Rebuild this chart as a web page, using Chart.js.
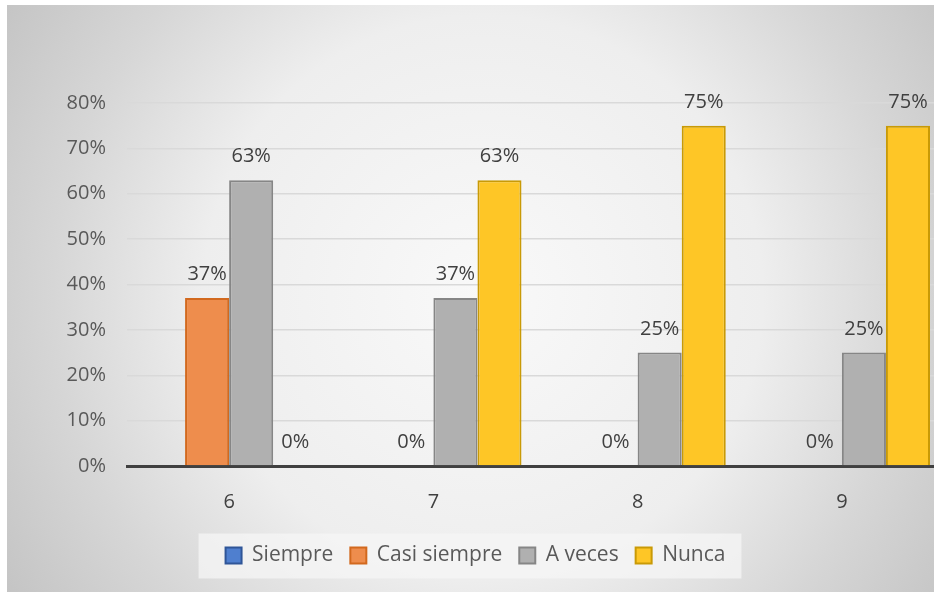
<!DOCTYPE html>
<html>
<head>
<meta charset="utf-8">
<script src="https://cdn.jsdelivr.net/npm/chart.js@4.4.1/dist/chart.umd.min.js"></script>
<style>
  html, body { margin: 0; padding: 0; background: #ffffff; overflow: hidden; width: 934px; height: 592px; }
  #box {
    position: absolute; left: 7px; top: 5px; width: 940px; height: 587px;
    background: radial-gradient(circle at 476px 290px, #f9f9f9 0px, #eeeeee 280px, #d6d6d6 430px, #c3c3c3 570px);
  }
</style>
</head>
<body>
<div id="box"><canvas id="grafico" width="940" height="587"></canvas></div>
<script>
// grados y respuestas (porcentaje)
const grados = ['6', '7', '8', '9'];
const siempre = [null, null, null, null];
const casiSiempre = [37, 0, 0, 0];
const aVeces = [63, 37, 25, 25];
const nunca = [0, 63, 75, 75];
const ticksY = [0, 10, 20, 30, 40, 50, 60, 70, 80];

const fuente = '"Open Sans", sans-serif';

// fondo claro detras de la leyenda
const fondoLeyenda = {
    id: 'fondoLeyenda',
    beforeDraw(chart) {
        const hb = chart.legend.legendHitBoxes;
        if (!hb || !hb.length) return;
        const ctx = chart.ctx;
        const first = hb[0], last = hb[hb.length - 1];
        const x0 = first.left - 27;
        const x1 = last.left + last.width + 16;
        const yMid = first.top + first.height / 2;
        ctx.save();
        ctx.fillStyle = 'rgba(245,245,245,0.75)';
        ctx.fillRect(x0, yMid - 22, x1 - x0, 45);
        ctx.restore();
    }
};

// etiquetas de valor sobre cada barra
const etiquetas = {
    id: 'etiquetas',
    afterDatasetsDraw(chart) {
        const ctx = chart.ctx;
        ctx.save();
        ctx.font = '20px ' + fuente;
        ctx.fillStyle = '#404040';
        ctx.textAlign = 'center';
        ctx.textBaseline = 'alphabetic';
        chart.data.datasets.forEach((ds, i) => {
            const meta = chart.getDatasetMeta(i);
            meta.data.forEach((bar, j) => {
                const v = ds.data[j];
                if (v === null) return;
                ctx.fillText(v + '%', bar.x, bar.y - 18);
            });
        });
        ctx.restore();
    }
};

const ctx = document.getElementById('grafico').getContext('2d');
new Chart(ctx, {
    type: 'bar',
    data: {
        labels: grados,
        datasets: [
            { label: 'Siempre', data: siempre, backgroundColor: '#4f7fcf', borderColor: '#2f5597', borderWidth: 2 },
            { label: 'Casi siempre', data: casiSiempre, backgroundColor: '#ee8d4d', borderColor: '#d2691e', borderWidth: 2 },
            { label: 'A veces', data: aVeces, backgroundColor: '#b0b0b0', borderColor: '#868686', borderWidth: 2 },
            { label: 'Nunca', data: nunca, backgroundColor: '#fec626', borderColor: '#c99a06', borderWidth: 2 }
        ]
    },
    options: {
        responsive: false,
        animation: false,
        layout: { padding: { top: 98, right: 3, left: 0, bottom: 16 } },
        datasets: {
            bar: { categoryPercentage: 0.863, barPercentage: 1 }
        },
        scales: {
            x: {
                grid: { display: false, drawTicks: false },
                border: { display: true, color: '#404040', width: 3 },
                ticks: { color: '#404040', font: { family: fuente, size: 20 }, padding: 24 },
                afterFit(scale) { scale.height = 62; }
            },
            y: {
                min: 0,
                max: 80,
                afterBuildTicks(scale) { scale.ticks = ticksY.map(v => ({ value: v })); },
                grid: { color: '#d9d9d9', lineWidth: 1.5, drawTicks: false },
                border: { display: false },
                ticks: {
                    color: '#595959',
                    font: { family: fuente, size: 20 },
                    padding: 21,
                    callback: v => v + '%'
                },
                afterFit(scale) { scale.width = 120; }
            }
        },
        plugins: {
            legend: {
                position: 'bottom',
                labels: {
                    color: '#595959',
                    font: { family: fuente, size: 21 },
                    boxWidth: 16,
                    boxHeight: 16,
                    padding: 17
                }
            },
            tooltip: { enabled: false }
        }
    },
    plugins: [fondoLeyenda, etiquetas]
});
</script>
</body>
</html>
